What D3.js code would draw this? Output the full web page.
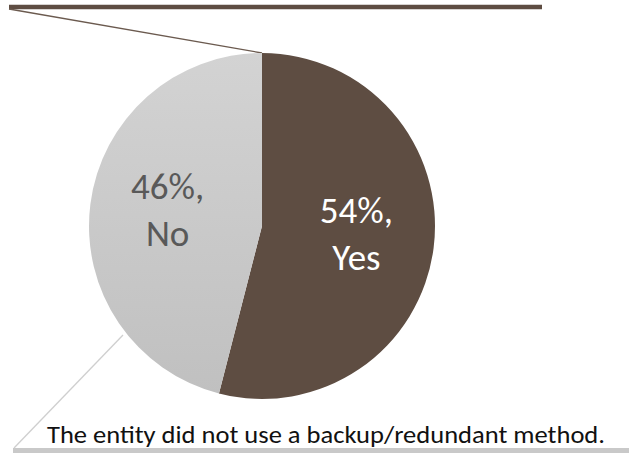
<!DOCTYPE html>
<html>
<head>
<meta charset="utf-8">
<script src="https://cdn.jsdelivr.net/npm/d3@7"></script>
<style>
  html, body { margin: 0; padding: 0; background: #ffffff; }
  svg { display: block; }
</style>
</head>
<body>
<svg id="chart" width="629" height="453"></svg>
<script>
const categories = ["Yes", "No"];
const values = [54, 46];
const caption = "The entity did not use a backup/redundant method.";

const W = 629, H = 453;
const cx = 262, cy = 226, R = 173;
const fontFamily = "Carlito, Calibri, Lato, 'Open Sans', sans-serif";

const svg = d3.select("#chart");

const defs = svg.append("defs");
const grad = defs.append("linearGradient")
  .attr("id", "grayGrad").attr("x1", 0).attr("y1", 0).attr("x2", 0).attr("y2", 1);
grad.append("stop").attr("offset", "0%").attr("stop-color", "#d3d3d3");
grad.append("stop").attr("offset", "100%").attr("stop-color", "#c0c0c0");

const color = d3.scaleOrdinal().domain(categories).range(["#5e4d42", "url(#grayGrad)"]);
const labelColor = d3.scaleOrdinal().domain(categories).range(["#ffffff", "#595959"]);

svg.append("line").attr("x1", 9).attr("x2", 542).attr("y1", 7).attr("y2", 7)
  .attr("stroke", "#5e4d42").attr("stroke-width", 4.5);
svg.append("line").attr("x1", 9).attr("y1", 9).attr("x2", cx).attr("y2", cy - R)
  .attr("stroke", "#6b5a4f").attr("stroke-width", 1.3);

svg.append("line").attr("x1", 13).attr("x2", W).attr("y1", 450.5).attr("y2", 450.5)
  .attr("stroke", "#c9c9c9").attr("stroke-width", 5);
svg.append("line").attr("x1", 14).attr("y1", 448).attr("x2", 123).attr("y2", 335)
  .attr("stroke", "#cfcfcf").attr("stroke-width", 1.3);

const pie = d3.pie().sort(null).value(d => d.value).startAngle(0).endAngle(2 * Math.PI);
const data = pie(categories.map((c, i) => ({ cat: c, value: values[i] })));
const arc = d3.arc().innerRadius(0).outerRadius(R);
const labelArc = d3.arc().innerRadius(R * 0.55).outerRadius(R * 0.55);

const g = svg.append("g").attr("transform", `translate(${cx},${cy})`);
g.selectAll("path.slice").data(data).enter().append("path")
  .attr("class", "slice")
  .attr("d", arc)
  .attr("fill", d => color(d.data.cat));

const lbl = g.selectAll("text.lbl").data(data).enter().append("text")
  .attr("class", "lbl")
  .attr("text-anchor", "middle")
  .attr("font-family", fontFamily)
  .attr("font-size", 37)
  .attr("fill", d => labelColor(d.data.cat))
  .attr("transform", d => {
    const [x, y] = labelArc.centroid(d);
    return `translate(${x},${y})`;
  });
lbl.append("tspan").attr("x", 0).attr("y", -15).text(d => d.data.value + "%,");
lbl.append("tspan").attr("x", 0).attr("y", 32).text(d => d.data.cat);

svg.append("text")
  .attr("x", 47).attr("y", 443)
  .attr("font-family", fontFamily)
  .attr("font-size", 24)
  .attr("fill", "#111111")
  .attr("textLength", 558)
  .attr("lengthAdjust", "spacingAndGlyphs")
  .text(caption);
</script>
</body>
</html>
